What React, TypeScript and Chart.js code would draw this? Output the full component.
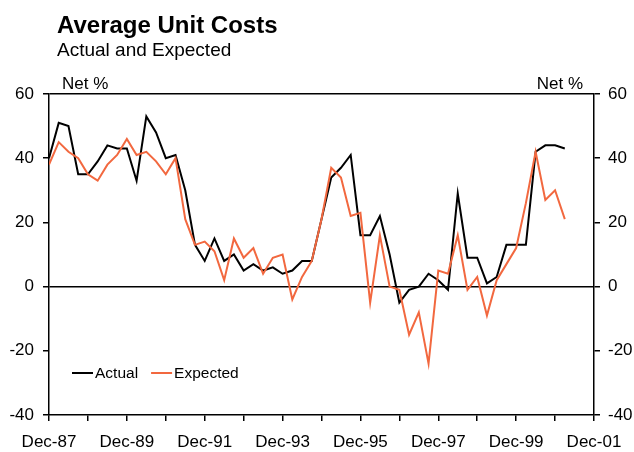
import { useEffect, useRef } from "react";
import { Chart, registerables } from "chart.js";

Chart.register(...registerables);

const FONT = "'Liberation Sans', Arial, Helvetica, sans-serif";

const chartTitle = "Average Unit Costs";
const chartSubtitle = "Actual and Expected";
const unitLabel = "Net %";

// quarterly observations, starting Dec-87
const seriesNames = ["Actual", "Expected"];
const actual = [
  40, 51, 50, 35, 35, 39, 44, 43, 43, 33,
  53, 48, 40, 41, 30, 13, 8, 15, 8, 10,
  5, 7, 5, 6, 4, 5, 8, 8, 21, 34,
  37, 41, 16, 16, 22, 10, -5, -1, 0, 4,
  2, -1, 29, 9, 9, 1, 3, 13, 13, 13,
  42, 44, 44, 43,
];
const expected = [
  38, 45, 42, 40, 35, 33, 38, 41, 46, 41,
  42, 39, 35, 40, 21, 13, 14, 11, 2, 15,
  9, 12, 4, 9, 10, -4, 3, 8, 21, 37,
  34, 22, 23, -5, 16, 0, -1, -15, -8, -24,
  5, 4, 16, -1, 3, -9, 2, 7, 12, 26,
  42, 27, 30, 21,
];
const seriesColors = ["#000000", "#F2683F"];

// x axis: quarters from Dec-87 (0) to Dec-01 (56)
const xTickLabels = ["Dec-87", "Dec-89", "Dec-91", "Dec-93", "Dec-95", "Dec-97", "Dec-99", "Dec-01"];
const quartersPerLabel = 8;
const quartersPerTick = 4;
const xMax = (xTickLabels.length - 1) * quartersPerLabel;

const yMin = -40;
const yMax = 60;
const yStep = 20;

const textPlugin = {
  id: "textPlugin",
  afterDraw(chart: any) {
    const ctx = chart.ctx;
    const area = chart.chartArea;
    ctx.save();
    ctx.fillStyle = "#000";
    ctx.textBaseline = "alphabetic";
    ctx.textAlign = "left";
    ctx.font = `bold 24px ${FONT}`;
    ctx.fillText(chartTitle, 57, 33);
    ctx.font = `19px ${FONT}`;
    ctx.fillText(chartSubtitle, 57, 56);
    ctx.font = `17px ${FONT}`;
    ctx.fillText(unitLabel, area.left + 13, area.top - 5);
    ctx.textAlign = "right";
    ctx.fillText(unitLabel, area.right - 11, area.top - 5);

    // legend
    const ly = area.bottom - 42;
    let lx = area.left + 23;
    ctx.font = `15.5px ${FONT}`;
    ctx.textAlign = "left";
    ctx.textBaseline = "middle";
    chart.data.datasets.forEach((ds: any) => {
      ctx.strokeStyle = ds.borderColor;
      ctx.lineWidth = 2;
      ctx.beginPath();
      ctx.moveTo(lx, ly);
      ctx.lineTo(lx + 21, ly);
      ctx.stroke();
      ctx.fillStyle = "#000";
      ctx.fillText(ds.label, lx + 23, ly + 1);
      lx += 23 + ctx.measureText(ds.label).width + 13;
    });
    ctx.restore();
  },
};

export default function App() {
  const canvasRef = useRef<HTMLCanvasElement | null>(null);

  useEffect(() => {
    if (!canvasRef.current) return;
    const toPoints = (arr: number[]) => arr.map((v, i) => ({ x: i, y: v }));
    const chart = new Chart(canvasRef.current, {
      type: "line",
      data: {
        datasets: [
          {
            label: seriesNames[0],
            data: toPoints(actual),
            borderColor: seriesColors[0],
            backgroundColor: seriesColors[0],
            borderWidth: 2,
            pointRadius: 0,
            tension: 0,
            order: 1,
          },
          {
            label: seriesNames[1],
            data: toPoints(expected),
            borderColor: seriesColors[1],
            backgroundColor: seriesColors[1],
            borderWidth: 2,
            pointRadius: 0,
            tension: 0,
            order: 0,
          },
        ],
      },
      options: {
        animation: false,
        responsive: false,
        devicePixelRatio: 1,
        layout: { padding: { top: 94, left: 0, right: 0, bottom: 0 } },
        plugins: {
          legend: { display: false },
          tooltip: { enabled: false },
          title: { display: false },
        },
        scales: {
          x: {
            type: "linear",
            position: "bottom",
            min: 0,
            max: xMax,
            afterFit: (s: any) => {
              s.height = 37;
            },
            ticks: {
              stepSize: quartersPerTick,
              autoSkip: false,
              maxRotation: 0,
              padding: 11,
              color: "#000",
              font: { family: FONT, size: 17 },
              callback: (v: any) => {
                const n = Number(v);
                return n % quartersPerLabel === 0 ? xTickLabels[n / quartersPerLabel] : "";
              },
            },
            grid: {
              drawOnChartArea: false,
              drawTicks: true,
              tickLength: 6,
              color: "#000",
              lineWidth: 1.5,
            },
            border: { display: true, color: "#000", width: 1.5 },
          },
          y: {
            position: "left",
            min: yMin,
            max: yMax,
            afterFit: (s: any) => {
              s.width = 49;
            },
            ticks: {
              stepSize: yStep,
              padding: 9,
              color: "#000",
              font: { family: FONT, size: 17 },
            },
            grid: {
              drawOnChartArea: true,
              drawTicks: true,
              tickLength: 6,
              color: (c: any) =>
                c.tick && (c.tick.value === 0 || c.tick.value === yMax) ? "#000" : "rgba(0,0,0,0)",
              tickColor: "#000",
              lineWidth: 1.5,
            },
            border: { display: true, color: "#000", width: 1.5 },
          },
          y2: {
            position: "right",
            min: yMin,
            max: yMax,
            afterFit: (s: any) => {
              s.width = 40;
            },
            ticks: {
              stepSize: yStep,
              padding: 8,
              color: "#000",
              font: { family: FONT, size: 17 },
            },
            grid: {
              drawOnChartArea: false,
              drawTicks: true,
              tickLength: 6,
              color: "#000",
              lineWidth: 1.5,
            },
            border: { display: true, color: "#000", width: 1.5 },
          },
        },
      },
      plugins: [textPlugin],
    });
    return () => chart.destroy();
  }, []);

  return (
    <div style={{ position: "absolute", left: 0, top: 0, width: 634, height: 452, background: "#fff" }}>
      <canvas ref={canvasRef} width={634} height={452} style={{ display: "block" }} />
    </div>
  );
}
